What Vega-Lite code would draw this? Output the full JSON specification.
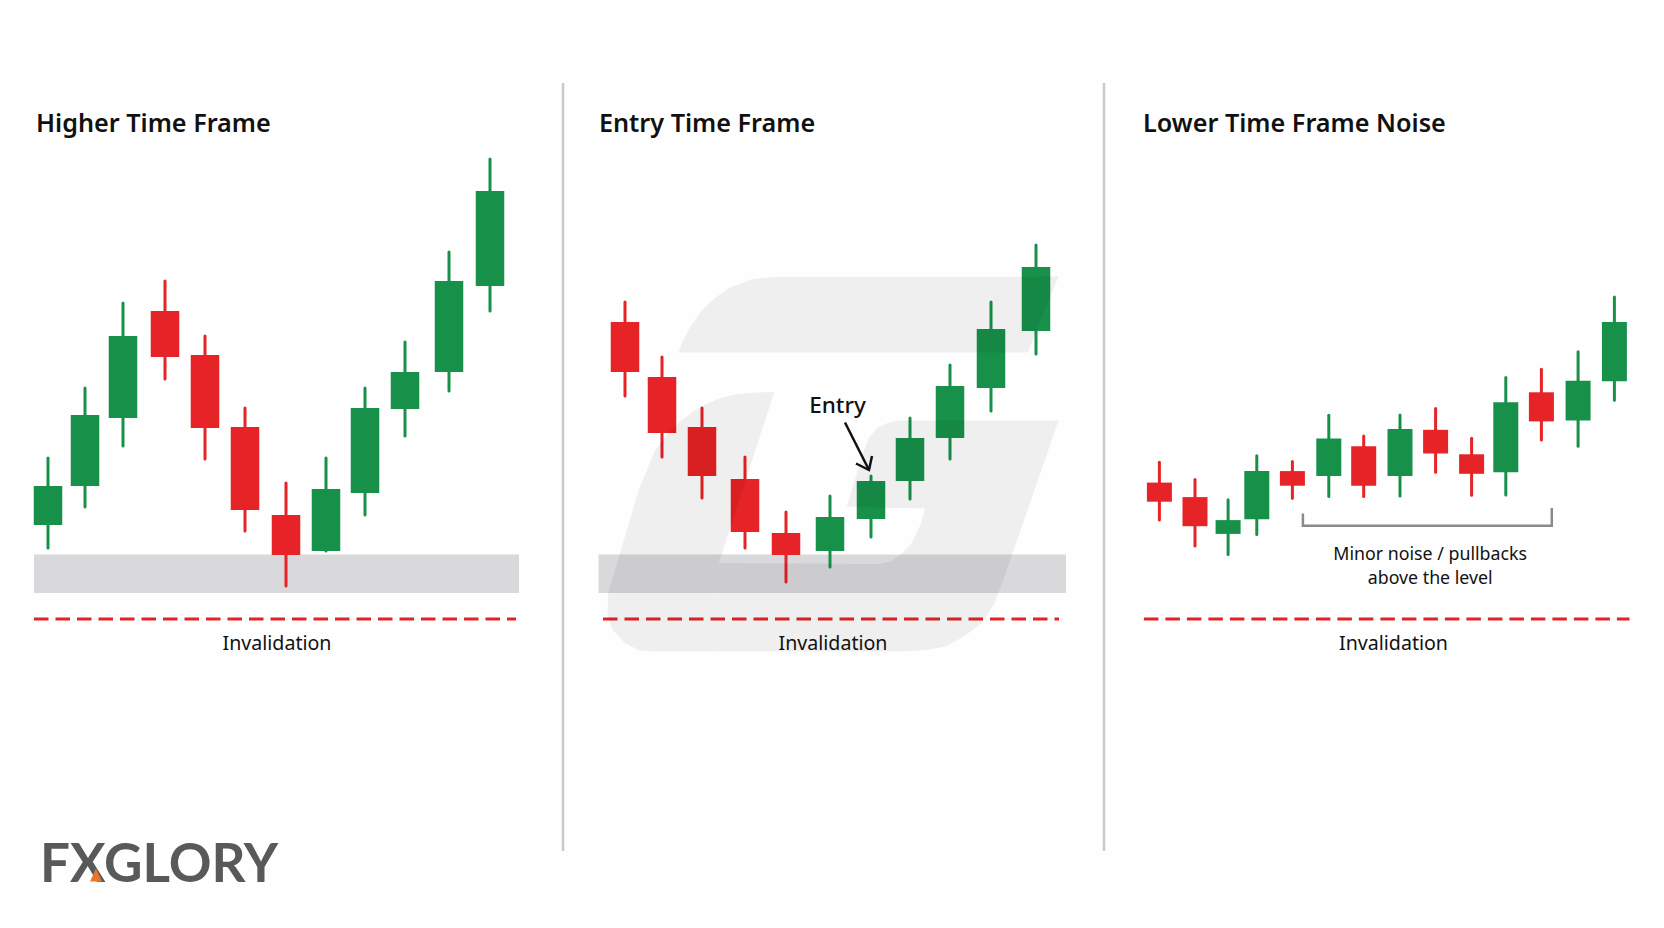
{
  "$schema": "https://vega.github.io/schema/vega-lite/v6.json",
  "background": "#fefefe",
  "padding": 0,
  "spacing": 0,
  "config": {"view": {"stroke": null}, "concat": {"spacing": 0}},
  "datasets": {
    "candles": [
      {"panel": 1, "t": 4.8, "high": 47.0, "open": 40.3, "close": 44.2, "low": 38.0, "dir": "up"},
      {"panel": 1, "t": 8.5, "high": 54.0, "open": 44.2, "close": 51.3, "low": 42.1, "dir": "up"},
      {"panel": 1, "t": 12.3, "high": 62.5, "open": 51.0, "close": 59.2, "low": 48.2, "dir": "up"},
      {"panel": 1, "t": 16.5, "high": 64.7, "open": 61.7, "close": 57.1, "low": 54.9, "dir": "down"},
      {"panel": 1, "t": 20.5, "high": 59.2, "open": 57.3, "close": 50.0, "low": 46.9, "dir": "down"},
      {"panel": 1, "t": 24.5, "high": 52.0, "open": 50.1, "close": 41.8, "low": 39.7, "dir": "down"},
      {"panel": 1, "t": 28.6, "high": 44.5, "open": 41.3, "close": 37.3, "low": 34.2, "dir": "down"},
      {"panel": 1, "t": 32.6, "high": 47.0, "open": 37.7, "close": 43.9, "low": 37.7, "dir": "up"},
      {"panel": 1, "t": 36.5, "high": 54.0, "open": 43.5, "close": 52.0, "low": 41.3, "dir": "up"},
      {"panel": 1, "t": 40.5, "high": 58.6, "open": 51.9, "close": 55.6, "low": 49.2, "dir": "up"},
      {"panel": 1, "t": 44.9, "high": 67.6, "open": 55.6, "close": 64.7, "low": 53.7, "dir": "up"},
      {"panel": 1, "t": 49.0, "high": 76.9, "open": 64.2, "close": 73.7, "low": 61.7, "dir": "up"},
      {"panel": 2, "t": 6.2, "high": 62.6, "open": 60.6, "close": 55.6, "low": 53.2, "dir": "down"},
      {"panel": 2, "t": 9.9, "high": 57.1, "open": 55.1, "close": 49.5, "low": 47.1, "dir": "down"},
      {"panel": 2, "t": 13.9, "high": 52.0, "open": 50.1, "close": 45.2, "low": 43.0, "dir": "down"},
      {"panel": 2, "t": 18.2, "high": 47.1, "open": 44.9, "close": 39.6, "low": 38.0, "dir": "down"},
      {"panel": 2, "t": 22.3, "high": 41.6, "open": 39.5, "close": 37.3, "low": 34.6, "dir": "down"},
      {"panel": 2, "t": 26.7, "high": 43.2, "open": 37.7, "close": 41.1, "low": 36.1, "dir": "up"},
      {"panel": 2, "t": 30.8, "high": 45.2, "open": 40.9, "close": 44.7, "low": 39.1, "dir": "up"},
      {"panel": 2, "t": 34.7, "high": 51.0, "open": 44.7, "close": 49.0, "low": 42.9, "dir": "up"},
      {"panel": 2, "t": 38.7, "high": 56.3, "open": 49.0, "close": 54.2, "low": 46.9, "dir": "up"},
      {"panel": 2, "t": 42.8, "high": 62.6, "open": 54.0, "close": 59.9, "low": 51.7, "dir": "up"},
      {"panel": 2, "t": 47.3, "high": 68.3, "open": 59.7, "close": 66.1, "low": 57.4, "dir": "up"},
      {"panel": 3, "t": 5.54, "high": 46.57, "open": 44.54, "close": 42.63, "low": 40.79, "dir": "down"},
      {"panel": 3, "t": 9.1, "high": 44.85, "open": 43.09, "close": 40.18, "low": 38.19, "dir": "down"},
      {"panel": 3, "t": 12.41, "high": 42.82, "open": 39.41, "close": 40.79, "low": 37.34, "dir": "up"},
      {"panel": 3, "t": 15.28, "high": 47.22, "open": 40.87, "close": 45.69, "low": 39.34, "dir": "up"},
      {"panel": 3, "t": 18.84, "high": 46.64, "open": 45.69, "close": 44.23, "low": 42.97, "dir": "down"},
      {"panel": 3, "t": 22.48, "high": 51.28, "open": 45.19, "close": 48.94, "low": 43.16, "dir": "up"},
      {"panel": 3, "t": 25.97, "high": 49.21, "open": 48.18, "close": 44.23, "low": 43.16, "dir": "down"},
      {"panel": 3, "t": 29.6, "high": 51.31, "open": 45.19, "close": 49.9, "low": 43.2, "dir": "up"},
      {"panel": 3, "t": 33.16, "high": 51.96, "open": 49.82, "close": 47.45, "low": 45.57, "dir": "down"},
      {"panel": 3, "t": 36.76, "high": 48.98, "open": 47.37, "close": 45.42, "low": 43.28, "dir": "down"},
      {"panel": 3, "t": 40.18, "high": 55.06, "open": 45.57, "close": 52.58, "low": 43.31, "dir": "up"},
      {"panel": 3, "t": 43.74, "high": 55.87, "open": 53.57, "close": 50.66, "low": 48.79, "dir": "down"},
      {"panel": 3, "t": 47.41, "high": 57.63, "open": 50.74, "close": 54.72, "low": 48.18, "dir": "up"},
      {"panel": 3, "t": 51.04, "high": 63.1, "open": 54.68, "close": 60.61, "low": 52.77, "dir": "up"}
    ],
    "bands": [
      {"panel": 1, "t0": 3.4, "t1": 51.9, "p0": 33.5, "p1": 37.35},
      {"panel": 2, "t0": 3.56, "t1": 50.3, "p0": 33.5, "p1": 37.35}
    ],
    "invalidation": [
      {"panel": 1, "t0": 3.4, "t1": 51.6, "price": 30.9},
      {"panel": 2, "t0": 4.0, "t1": 49.6, "price": 30.9},
      {"panel": 3, "t0": 3.99, "t1": 52.55, "price": 30.9}
    ],
    "dividers": [
      {"panel": 2, "t": 0, "p0": 7.7, "p1": 84.5},
      {"panel": 3, "t": 0, "p0": 7.7, "p1": 84.5}
    ],
    "titles": [
      {"panel": 1, "t": 3.6, "price": 80.4, "label": "Higher Time Frame"},
      {"panel": 2, "t": 3.6, "price": 80.4, "label": "Entry Time Frame"},
      {"panel": 3, "t": 3.9, "price": 80.4, "label": "Lower Time Frame Noise"}
    ],
    "notes": [
      {"panel": 1, "t": 27.7, "price": 28.4, "label": "Invalidation"},
      {"panel": 2, "t": 27.0, "price": 28.4, "label": "Invalidation"},
      {"panel": 3, "t": 28.95, "price": 28.4, "label": "Invalidation"},
      {"panel": 3, "t": 32.62, "price": 37.32, "label": "Minor noise / pullbacks"},
      {"panel": 3, "t": 32.62, "price": 34.87, "label": "above the level"}
    ],
    "watermark": [
      {"part": "a", "t": 4.45, "top": 31.22, "bot": 31.22},
      {"part": "a", "t": 4.52, "top": 33.52, "bot": 30.84},
      {"part": "a", "t": 5.06, "top": 35.32, "bot": 29.69},
      {"part": "a", "t": 6.13, "top": 38.95, "bot": 28.54},
      {"part": "a", "t": 7.56, "top": 43.77, "bot": 27.78},
      {"part": "a", "t": 9.16, "top": 47.68, "bot": 27.66},
      {"part": "a", "t": 10.41, "top": 49.4, "bot": 27.66},
      {"part": "a", "t": 12.02, "top": 50.93, "bot": 27.66},
      {"part": "a", "t": 13.63, "top": 52.08, "bot": 27.66},
      {"part": "a", "t": 15.59, "top": 52.96, "bot": 27.66},
      {"part": "b", "t": 15.59, "top": 52.96, "bot": 36.5},
      {"part": "b", "t": 17.2, "top": 53.34, "bot": 41.48},
      {"part": "b", "t": 18.99, "top": 53.53, "bot": 46.99},
      {"part": "b", "t": 21.13, "top": 53.61, "bot": 53.61},
      {"part": "c", "t": 15.59, "top": 36.5, "bot": 27.66},
      {"part": "c", "t": 31.49, "top": 36.39, "bot": 27.66},
      {"part": "c", "t": 32.74, "top": 36.66, "bot": 27.66},
      {"part": "c", "t": 33.99, "top": 37.54, "bot": 27.66},
      {"part": "c", "t": 34.88, "top": 38.49, "bot": 27.7},
      {"part": "c", "t": 35.77, "top": 40.41, "bot": 27.74},
      {"part": "c", "t": 36.2, "top": 41.94, "bot": 27.78},
      {"part": "d", "t": 28.38, "top": 42.13, "bot": 42.13},
      {"part": "d", "t": 30.06, "top": 47.68, "bot": 42.09},
      {"part": "d", "t": 30.59, "top": 49.02, "bot": 42.07},
      {"part": "d", "t": 31.49, "top": 50.05, "bot": 42.04},
      {"part": "d", "t": 32.56, "top": 50.55, "bot": 42.02},
      {"part": "d", "t": 33.63, "top": 50.74, "bot": 42.01},
      {"part": "d", "t": 36.2, "top": 50.74, "bot": 41.94},
      {"part": "e", "t": 36.2, "top": 50.74, "bot": 27.78},
      {"part": "e", "t": 38.27, "top": 50.74, "bot": 28.16},
      {"part": "e", "t": 40.06, "top": 50.74, "bot": 29.12},
      {"part": "e", "t": 41.84, "top": 50.74, "bot": 30.46},
      {"part": "e", "t": 43.09, "top": 50.74, "bot": 32.37},
      {"part": "e", "t": 43.99, "top": 50.74, "bot": 34.67},
      {"part": "e", "t": 49.56, "top": 50.74, "bot": 50.74},
      {"part": "f", "t": 11.59, "top": 57.63, "bot": 57.55},
      {"part": "f", "t": 12.02, "top": 58.78, "bot": 57.55},
      {"part": "f", "t": 12.74, "top": 60.12, "bot": 57.55},
      {"part": "f", "t": 13.81, "top": 61.65, "bot": 57.55},
      {"part": "f", "t": 15.06, "top": 62.91, "bot": 57.55},
      {"part": "f", "t": 16.66, "top": 64.06, "bot": 57.55},
      {"part": "f", "t": 18.99, "top": 64.9, "bot": 57.55},
      {"part": "f", "t": 21.13, "top": 65.09, "bot": 57.55},
      {"part": "f", "t": 46.49, "top": 65.13, "bot": 57.55},
      {"part": "f", "t": 49.56, "top": 65.17, "bot": 65.17}
    ],
    "arrow": [
      {"part": "shaft", "seq": 1, "t": 28.2, "price": 50.55},
      {"part": "shaft", "seq": 2, "t": 30.6, "price": 45.8},
      {"part": "head", "seq": 1, "t": 29.3, "price": 46.45},
      {"part": "head", "seq": 2, "t": 30.6, "price": 45.8},
      {"part": "head", "seq": 3, "t": 30.9, "price": 47.2}
    ],
    "bracket": [
      {"seq": 1, "t": 19.89, "price": 41.44},
      {"seq": 2, "t": 19.89, "price": 40.22},
      {"seq": 3, "t": 44.78, "price": 40.22},
      {"seq": 4, "t": 44.78, "price": 42.01}
    ],
    "logo_mark": [
      {"t": 9.0, "top": 4.65, "bot": 4.65},
      {"t": 9.6, "top": 5.95, "bot": 4.65},
      {"t": 10.2, "top": 4.65, "bot": 4.65}
    ]
  },
  "hconcat": [
    {
      "width": 560.5,
      "height": 928,
      "encoding": {
        "x": {"field": "t", "type": "quantitative", "axis": null, "scale": {"domain": [0, 56.05], "nice": false, "zero": false, "padding": 0}},
        "y": {"type": "quantitative", "axis": null, "scale": {"domain": [0, 92.8], "nice": false, "zero": false}}
      },
      "layer": [
        {
          "data": {"name": "bands"},
          "transform": [{"filter": "datum.panel == 1"}],
          "mark": {"type": "rect", "color": "#d9d9dc"},
          "encoding": {
            "x": {"field": "t0", "type": "quantitative"},
            "x2": {"field": "t1"},
            "y": {"field": "p0", "type": "quantitative"},
            "y2": {"field": "p1"}
          }
        },
        {
          "data": {"name": "invalidation"},
          "transform": [{"filter": "datum.panel == 1"}],
          "mark": {"type": "rule", "color": "#e32227", "strokeWidth": 3, "strokeDash": [14.5, 7]},
          "encoding": {
            "x": {"field": "t0", "type": "quantitative"},
            "x2": {"field": "t1"},
            "y": {"field": "price", "type": "quantitative"}
          }
        },
        {
          "data": {"name": "candles"},
          "transform": [{"filter": "datum.panel == 1"}],
          "mark": {"type": "rule", "strokeWidth": 3, "strokeCap": "round"},
          "encoding": {
            "y": {"field": "low", "type": "quantitative"},
            "y2": {"field": "high"},
            "color": {"field": "dir", "type": "nominal", "legend": null, "scale": {"domain": ["up", "down"], "range": ["#17914a", "#e62326"]}}
          }
        },
        {
          "data": {"name": "candles"},
          "transform": [{"filter": "datum.panel == 1"}],
          "mark": {"type": "bar", "size": 28.5, "orient": "vertical"},
          "encoding": {
            "y": {"field": "open", "type": "quantitative"},
            "y2": {"field": "close"},
            "color": {"field": "dir", "type": "nominal", "legend": null, "scale": {"domain": ["up", "down"], "range": ["#17914a", "#e62326"]}}
          }
        },
        {
          "data": {"name": "titles"},
          "transform": [{"filter": "datum.panel == 1"}],
          "mark": {"type": "text", "align": "left", "baseline": "middle", "font": "Noto Sans", "fontSize": 25.2, "fontWeight": 600, "color": "#111111"},
          "encoding": {"y": {"field": "price", "type": "quantitative"}, "text": {"field": "label"}}
        },
        {
          "data": {"name": "notes"},
          "transform": [{"filter": "datum.panel == 1"}],
          "mark": {"type": "text", "align": "center", "baseline": "middle", "font": "Noto Sans", "fontSize": 19.6, "color": "#111111"},
          "encoding": {"y": {"field": "price", "type": "quantitative"}, "text": {"field": "label"}}
        },
        {
          "data": {"values": [{"t": 4.0, "price": 4.65, "label": "FXGLORY"}]},
          "mark": {"type": "text", "align": "left", "baseline": "alphabetic", "font": "Lato", "fontSize": 53, "fontWeight": 700, "color": "#58595b"},
          "encoding": {"y": {"field": "price", "type": "quantitative"}, "text": {"field": "label"}}
        },
        {
          "data": {"name": "logo_mark"},
          "mark": {"type": "area", "color": "#e8762c"},
          "encoding": {"y": {"field": "top", "type": "quantitative"}, "y2": {"field": "bot"}}
        }
      ]
    },
    {
      "width": 539,
      "height": 928,
      "encoding": {
        "x": {"field": "t", "type": "quantitative", "axis": null, "scale": {"domain": [0, 53.9], "nice": false, "zero": false, "padding": 0}},
        "y": {"type": "quantitative", "axis": null, "scale": {"domain": [0, 92.8], "nice": false, "zero": false}}
      },
      "layer": [
        {
          "data": {"name": "dividers"},
          "transform": [{"filter": "datum.panel == 2"}],
          "mark": {"type": "rule", "color": "#c9c9cb", "strokeWidth": 2.5},
          "encoding": {"y": {"field": "p0", "type": "quantitative"}, "y2": {"field": "p1"}}
        },
        {
          "data": {"name": "bands"},
          "transform": [{"filter": "datum.panel == 2"}],
          "mark": {"type": "rect", "color": "#d9d9dc"},
          "encoding": {
            "x": {"field": "t0", "type": "quantitative"},
            "x2": {"field": "t1"},
            "y": {"field": "p0", "type": "quantitative"},
            "y2": {"field": "p1"}
          }
        },
        {
          "data": {"name": "invalidation"},
          "transform": [{"filter": "datum.panel == 2"}],
          "mark": {"type": "rule", "color": "#e32227", "strokeWidth": 3, "strokeDash": [14.5, 7]},
          "encoding": {
            "x": {"field": "t0", "type": "quantitative"},
            "x2": {"field": "t1"},
            "y": {"field": "price", "type": "quantitative"}
          }
        },
        {
          "data": {"name": "candles"},
          "transform": [{"filter": "datum.panel == 2"}],
          "mark": {"type": "rule", "strokeWidth": 3, "strokeCap": "round"},
          "encoding": {
            "y": {"field": "low", "type": "quantitative"},
            "y2": {"field": "high"},
            "color": {"field": "dir", "type": "nominal", "legend": null, "scale": {"domain": ["up", "down"], "range": ["#17914a", "#e62326"]}}
          }
        },
        {
          "data": {"name": "candles"},
          "transform": [{"filter": "datum.panel == 2"}],
          "mark": {"type": "bar", "size": 28.5, "orient": "vertical"},
          "encoding": {
            "y": {"field": "open", "type": "quantitative"},
            "y2": {"field": "close"},
            "color": {"field": "dir", "type": "nominal", "legend": null, "scale": {"domain": ["up", "down"], "range": ["#17914a", "#e62326"]}}
          }
        },
        {
          "data": {"name": "watermark"},
          "mark": {"type": "area", "color": "#000000", "opacity": 0.06},
          "encoding": {
            "y": {"field": "top", "type": "quantitative"},
            "y2": {"field": "bot"},
            "detail": {"field": "part"}
          }
        },
        {
          "data": {"name": "arrow"},
          "mark": {"type": "line", "color": "#111111", "strokeWidth": 2.5},
          "encoding": {
            "y": {"field": "price", "type": "quantitative"},
            "detail": {"field": "part"},
            "order": {"field": "seq"}
          }
        },
        {
          "data": {"values": [{"t": 27.45, "price": 52.2, "label": "Entry"}]},
          "mark": {"type": "text", "align": "center", "baseline": "middle", "font": "Noto Sans", "fontSize": 22.5, "fontWeight": 500, "color": "#111111"},
          "encoding": {"y": {"field": "price", "type": "quantitative"}, "text": {"field": "label"}}
        },
        {
          "data": {"name": "titles"},
          "transform": [{"filter": "datum.panel == 2"}],
          "mark": {"type": "text", "align": "left", "baseline": "middle", "font": "Noto Sans", "fontSize": 25.2, "fontWeight": 600, "color": "#111111"},
          "encoding": {"y": {"field": "price", "type": "quantitative"}, "text": {"field": "label"}}
        },
        {
          "data": {"name": "notes"},
          "transform": [{"filter": "datum.panel == 2"}],
          "mark": {"type": "text", "align": "center", "baseline": "middle", "font": "Noto Sans", "fontSize": 19.6, "color": "#111111"},
          "encoding": {"y": {"field": "price", "type": "quantitative"}, "text": {"field": "label"}}
        }
      ]
    },
    {
      "width": 560,
      "height": 928,
      "encoding": {
        "x": {"field": "t", "type": "quantitative", "axis": null, "scale": {"domain": [0, 56], "nice": false, "zero": false, "padding": 0}},
        "y": {"type": "quantitative", "axis": null, "scale": {"domain": [0, 92.8], "nice": false, "zero": false}}
      },
      "layer": [
        {
          "data": {"name": "dividers"},
          "transform": [{"filter": "datum.panel == 3"}],
          "mark": {"type": "rule", "color": "#c9c9cb", "strokeWidth": 2.5},
          "encoding": {"y": {"field": "p0", "type": "quantitative"}, "y2": {"field": "p1"}}
        },
        {
          "data": {"name": "invalidation"},
          "transform": [{"filter": "datum.panel == 3"}],
          "mark": {"type": "rule", "color": "#e32227", "strokeWidth": 3, "strokeDash": [14.5, 7]},
          "encoding": {
            "x": {"field": "t0", "type": "quantitative"},
            "x2": {"field": "t1"},
            "y": {"field": "price", "type": "quantitative"}
          }
        },
        {
          "data": {"name": "candles"},
          "transform": [{"filter": "datum.panel == 3"}],
          "mark": {"type": "rule", "strokeWidth": 3, "strokeCap": "round"},
          "encoding": {
            "y": {"field": "low", "type": "quantitative"},
            "y2": {"field": "high"},
            "color": {"field": "dir", "type": "nominal", "legend": null, "scale": {"domain": ["up", "down"], "range": ["#17914a", "#e62326"]}}
          }
        },
        {
          "data": {"name": "candles"},
          "transform": [{"filter": "datum.panel == 3"}],
          "mark": {"type": "bar", "size": 25, "orient": "vertical"},
          "encoding": {
            "y": {"field": "open", "type": "quantitative"},
            "y2": {"field": "close"},
            "color": {"field": "dir", "type": "nominal", "legend": null, "scale": {"domain": ["up", "down"], "range": ["#17914a", "#e62326"]}}
          }
        },
        {
          "data": {"name": "bracket"},
          "mark": {"type": "line", "color": "#8a8a8c", "strokeWidth": 2.5},
          "encoding": {"y": {"field": "price", "type": "quantitative"}, "order": {"field": "seq"}}
        },
        {
          "data": {"name": "titles"},
          "transform": [{"filter": "datum.panel == 3"}],
          "mark": {"type": "text", "align": "left", "baseline": "middle", "font": "Noto Sans", "fontSize": 25.2, "fontWeight": 600, "color": "#111111"},
          "encoding": {"y": {"field": "price", "type": "quantitative"}, "text": {"field": "label"}}
        },
        {
          "data": {"name": "notes"},
          "transform": [{"filter": "datum.panel == 3 && datum.label == 'Invalidation'"}],
          "mark": {"type": "text", "align": "center", "baseline": "middle", "font": "Noto Sans", "fontSize": 19.6, "color": "#111111"},
          "encoding": {"y": {"field": "price", "type": "quantitative"}, "text": {"field": "label"}}
        },
        {
          "data": {"name": "notes"},
          "transform": [{"filter": "datum.panel == 3 && datum.label != 'Invalidation'"}],
          "mark": {"type": "text", "align": "center", "baseline": "middle", "font": "Noto Sans", "fontSize": 17.8, "color": "#111111"},
          "encoding": {"y": {"field": "price", "type": "quantitative"}, "text": {"field": "label"}}
        }
      ]
    }
  ]
}
